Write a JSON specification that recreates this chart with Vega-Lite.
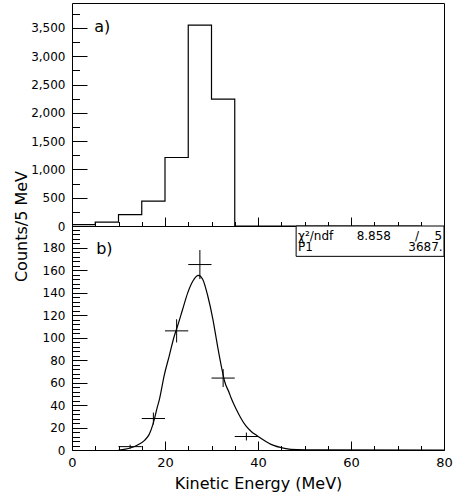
{
  "$schema": "https://vega.github.io/schema/vega-lite/v6.json",
  "padding": {"left": 12, "top": 2, "right": 0, "bottom": 0},
  "bounds": "flush",
  "spacing": 0,
  "config": {
    "view": {"stroke": "black", "strokeWidth": 1},
    "font": "DejaVu Sans",
    "axis": {
      "domain": false, "grid": false, "tickColor": "black", "tickWidth": 1,
      "labelColor": "black", "titleColor": "black",
      "labelFont": "DejaVu Sans", "labelFontSize": 12,
      "titleFont": "DejaVu Sans", "titleFontSize": 16, "titleFontWeight": "normal",
      "labelFlush": false, "labelOverlap": false
    },
    "text": {"font": "DejaVu Sans", "color": "black"}
  },
  "vconcat": [
    {
      "width": 372,
      "height": 223,
      "layer": [
        {
          "data": {"values": [
            {"E_low": 0, "counts": 25}, {"E_low": 5, "counts": 70}, {"E_low": 10, "counts": 200},
            {"E_low": 15, "counts": 440}, {"E_low": 20, "counts": 1210}, {"E_low": 25, "counts": 3550},
            {"E_low": 30, "counts": 2240}, {"E_low": 35, "counts": 0}, {"E_low": 40, "counts": 0},
            {"E_low": 45, "counts": 0}, {"E_low": 50, "counts": 0}, {"E_low": 55, "counts": 0},
            {"E_low": 60, "counts": 0}, {"E_low": 65, "counts": 0}, {"E_low": 70, "counts": 0},
            {"E_low": 75, "counts": 0}
          ]},
          "mark": {"type": "line", "interpolate": "step-after", "color": "black", "strokeWidth": 1.2},
          "encoding": {
            "x": {"field": "E_low", "type": "quantitative", "scale": {"domain": [0, 80], "nice": false},
                  "axis": {"orient": "bottom", "values": [0, 20, 40, 60, 80], "labels": false, "tickSize": -9, "title": null}},
            "y": {"field": "counts", "type": "quantitative", "scale": {"domain": [0, 3940], "nice": false},
                  "axis": {"orient": "left", "values": [0, 500, 1000, 1500, 2000, 2500, 3000, 3500], "tickSize": -15, "labelPadding": 22, "title": null}}
          }
        },
        {
          "data": {"values": [{"tag": "a)"}]},
          "mark": {"type": "text", "align": "left", "baseline": "alphabetic", "fontSize": 16},
          "encoding": {
            "text": {"field": "tag"},
            "x": {"datum": 4.8, "type": "quantitative", "scale": {"domain": [0, 80], "nice": false},
                  "axis": {"orient": "bottom", "values": [5, 10, 15, 25, 30, 35, 45, 50, 55, 65, 70, 75], "labels": false, "tickSize": -4.5, "title": null}},
            "y": {"datum": 3430, "type": "quantitative", "scale": {"domain": [0, 3940], "nice": false},
                  "axis": {"orient": "left", "values": [250, 750, 1250, 1750, 2250, 2750, 3250, 3750], "labels": false, "tickSize": -7.5, "title": null}}
          }
        }
      ],
      "resolve": {"axis": {"x": "independent", "y": "independent"}}
    },
    {
      "width": 372,
      "height": 224,
      "layer": [
        {
          "data": {"name": "pts", "values": [
            {"E": 12.5, "E_lo": 10, "E_hi": 15, "counts": 3, "lo": 1.27, "hi": 4.73},
            {"E": 17.5, "E_lo": 15, "E_hi": 20, "counts": 28, "lo": 22.7, "hi": 33.3},
            {"E": 22.5, "E_lo": 20, "E_hi": 25, "counts": 106, "lo": 95.7, "hi": 116.3},
            {"E": 27.5, "E_lo": 25, "E_hi": 30, "counts": 165, "lo": 152.1, "hi": 177.9},
            {"E": 32.5, "E_lo": 30, "E_hi": 35, "counts": 64, "lo": 56, "hi": 72},
            {"E": 37.5, "E_lo": 35, "E_hi": 40, "counts": 12, "lo": 8.5, "hi": 15.5}
          ]},
          "mark": {"type": "rule", "color": "black", "strokeWidth": 1},
          "encoding": {
            "x": {"field": "E", "type": "quantitative", "scale": {"domain": [0, 80], "nice": false},
                  "axis": {"orient": "bottom", "values": [0, 20, 40, 60, 80], "tickSize": -9, "labelPadding": 15, "labelFontSize": 13,
                           "title": "Kinetic Energy (MeV)", "titleY": 38, "titleBaseline": "alphabetic"}},
            "y": {"field": "lo", "type": "quantitative", "scale": {"domain": [0, 199.3], "nice": false},
                  "axis": {"orient": "left", "values": [0, 20, 40, 60, 80, 100, 120, 140, 160, 180], "tickSize": -15, "labelPadding": 22,
                           "title": "Counts/5 MeV", "titleX": -46, "titleY": 0, "titleAngle": -90, "titleAlign": "center", "titleBaseline": "alphabetic"}},
            "y2": {"field": "hi"}
          }
        },
        {
          "data": {"name": "pts"},
          "mark": {"type": "rule", "color": "black", "strokeWidth": 1},
          "encoding": {
            "x": {"field": "E_lo", "type": "quantitative", "scale": {"domain": [0, 80], "nice": false},
                  "axis": {"orient": "bottom", "values": [5, 10, 15, 25, 30, 35, 45, 50, 55, 65, 70, 75], "labels": false, "tickSize": -4.5, "title": null}},
            "x2": {"field": "E_hi"},
            "y": {"field": "counts", "type": "quantitative", "scale": {"domain": [0, 199.3], "nice": false},
                  "axis": {"orient": "left", "values": [4, 8, 12, 16, 24, 28, 32, 36, 44, 48, 52, 56, 64, 68, 72, 76, 84, 88, 92, 96, 104, 108, 112, 116, 124, 128, 132, 136, 144, 148, 152, 156, 164, 168, 172, 176, 184, 188, 192, 196], "labels": false, "tickSize": -7.5, "title": null}}
          }
        },
        {
          "data": {"values": [
            {"E": 10, "fit": 0}, {"E": 11.5, "fit": 0.8}, {"E": 12.7, "fit": 2.0}, {"E": 14.1, "fit": 4.4},
            {"E": 15.6, "fit": 8.6}, {"E": 16.6, "fit": 13.9}, {"E": 17.4, "fit": 22.8}, {"E": 17.7, "fit": 27.3},
            {"E": 18.4, "fit": 39}, {"E": 18.8, "fit": 45}, {"E": 19.8, "fit": 65.8}, {"E": 20.9, "fit": 83.6},
            {"E": 22.0, "fit": 101.4}, {"E": 22.7, "fit": 110.3}, {"E": 23.8, "fit": 125.2}, {"E": 24.9, "fit": 140},
            {"E": 26.0, "fit": 150.4}, {"E": 27.2, "fit": 155.4}, {"E": 28.1, "fit": 151.9}, {"E": 29.2, "fit": 137},
            {"E": 30.3, "fit": 116.3}, {"E": 31.3, "fit": 92.5}, {"E": 32.4, "fit": 68.8}, {"E": 32.8, "fit": 61.4},
            {"E": 33.8, "fit": 51}, {"E": 34.2, "fit": 46.5}, {"E": 35.3, "fit": 36.5}, {"E": 36.3, "fit": 28.5},
            {"E": 37.4, "fit": 21.4}, {"E": 38.6, "fit": 16.3}, {"E": 39.9, "fit": 12.5}, {"E": 42.8, "fit": 5},
            {"E": 45.7, "fit": 1.5}, {"E": 48.5, "fit": 0.3}, {"E": 52, "fit": 0.05}, {"E": 80, "fit": 0}
          ]},
          "mark": {"type": "line", "interpolate": "monotone", "color": "black", "strokeWidth": 1.2},
          "encoding": {
            "x": {"field": "E", "type": "quantitative", "scale": {"domain": [0, 80], "nice": false}, "axis": null},
            "y": {"field": "fit", "type": "quantitative", "scale": {"domain": [0, 199.3], "nice": false}, "axis": null}
          }
        },
        {
          "data": {"values": [{"box": "stats"}]},
          "mark": {"type": "rect", "fill": "white", "stroke": "black", "strokeWidth": 1},
          "encoding": {
            "x": {"datum": 48.2, "type": "quantitative", "axis": null},
            "x2": {"datum": 80},
            "y": {"datum": 172.3, "type": "quantitative", "axis": null},
            "y2": {"datum": 199.3}
          }
        },
        {
          "data": {"values": [{"t": "χ²/ndf"}]},
          "mark": {"type": "text", "align": "left", "baseline": "alphabetic", "fontSize": 12},
          "encoding": {"text": {"field": "t"}, "x": {"datum": 48.6, "type": "quantitative", "axis": null}, "y": {"datum": 186.6, "type": "quantitative", "axis": null}}
        },
        {
          "data": {"values": [{"t": "8.858"}]},
          "mark": {"type": "text", "align": "right", "baseline": "alphabetic", "fontSize": 12},
          "encoding": {"text": {"field": "t"}, "x": {"datum": 68.6, "type": "quantitative", "axis": null}, "y": {"datum": 186.6, "type": "quantitative", "axis": null}}
        },
        {
          "data": {"values": [{"t": "/"}]},
          "mark": {"type": "text", "align": "center", "baseline": "alphabetic", "fontSize": 12},
          "encoding": {"text": {"field": "t"}, "x": {"datum": 74.2, "type": "quantitative", "axis": null}, "y": {"datum": 186.6, "type": "quantitative", "axis": null}}
        },
        {
          "data": {"values": [{"t": "5"}]},
          "mark": {"type": "text", "align": "right", "baseline": "alphabetic", "fontSize": 12},
          "encoding": {"text": {"field": "t"}, "x": {"datum": 79.6, "type": "quantitative", "axis": null}, "y": {"datum": 186.6, "type": "quantitative", "axis": null}}
        },
        {
          "data": {"values": [{"t": "P1"}]},
          "mark": {"type": "text", "align": "left", "baseline": "alphabetic", "fontSize": 12},
          "encoding": {"text": {"field": "t"}, "x": {"datum": 48.6, "type": "quantitative", "axis": null}, "y": {"datum": 177.3, "type": "quantitative", "axis": null}}
        },
        {
          "data": {"values": [{"t": "3687."}]},
          "mark": {"type": "text", "align": "right", "baseline": "alphabetic", "fontSize": 12},
          "encoding": {"text": {"field": "t"}, "x": {"datum": 79.7, "type": "quantitative", "axis": null}, "y": {"datum": 177.3, "type": "quantitative", "axis": null}}
        },
        {
          "data": {"values": [{"t": "b)"}]},
          "mark": {"type": "text", "align": "left", "baseline": "alphabetic", "fontSize": 16},
          "encoding": {"text": {"field": "t"}, "x": {"datum": 5.2, "type": "quantitative", "axis": null}, "y": {"datum": 174.6, "type": "quantitative", "axis": null}}
        }
      ],
      "resolve": {"axis": {"x": "independent", "y": "independent"}}
    }
  ]
}
